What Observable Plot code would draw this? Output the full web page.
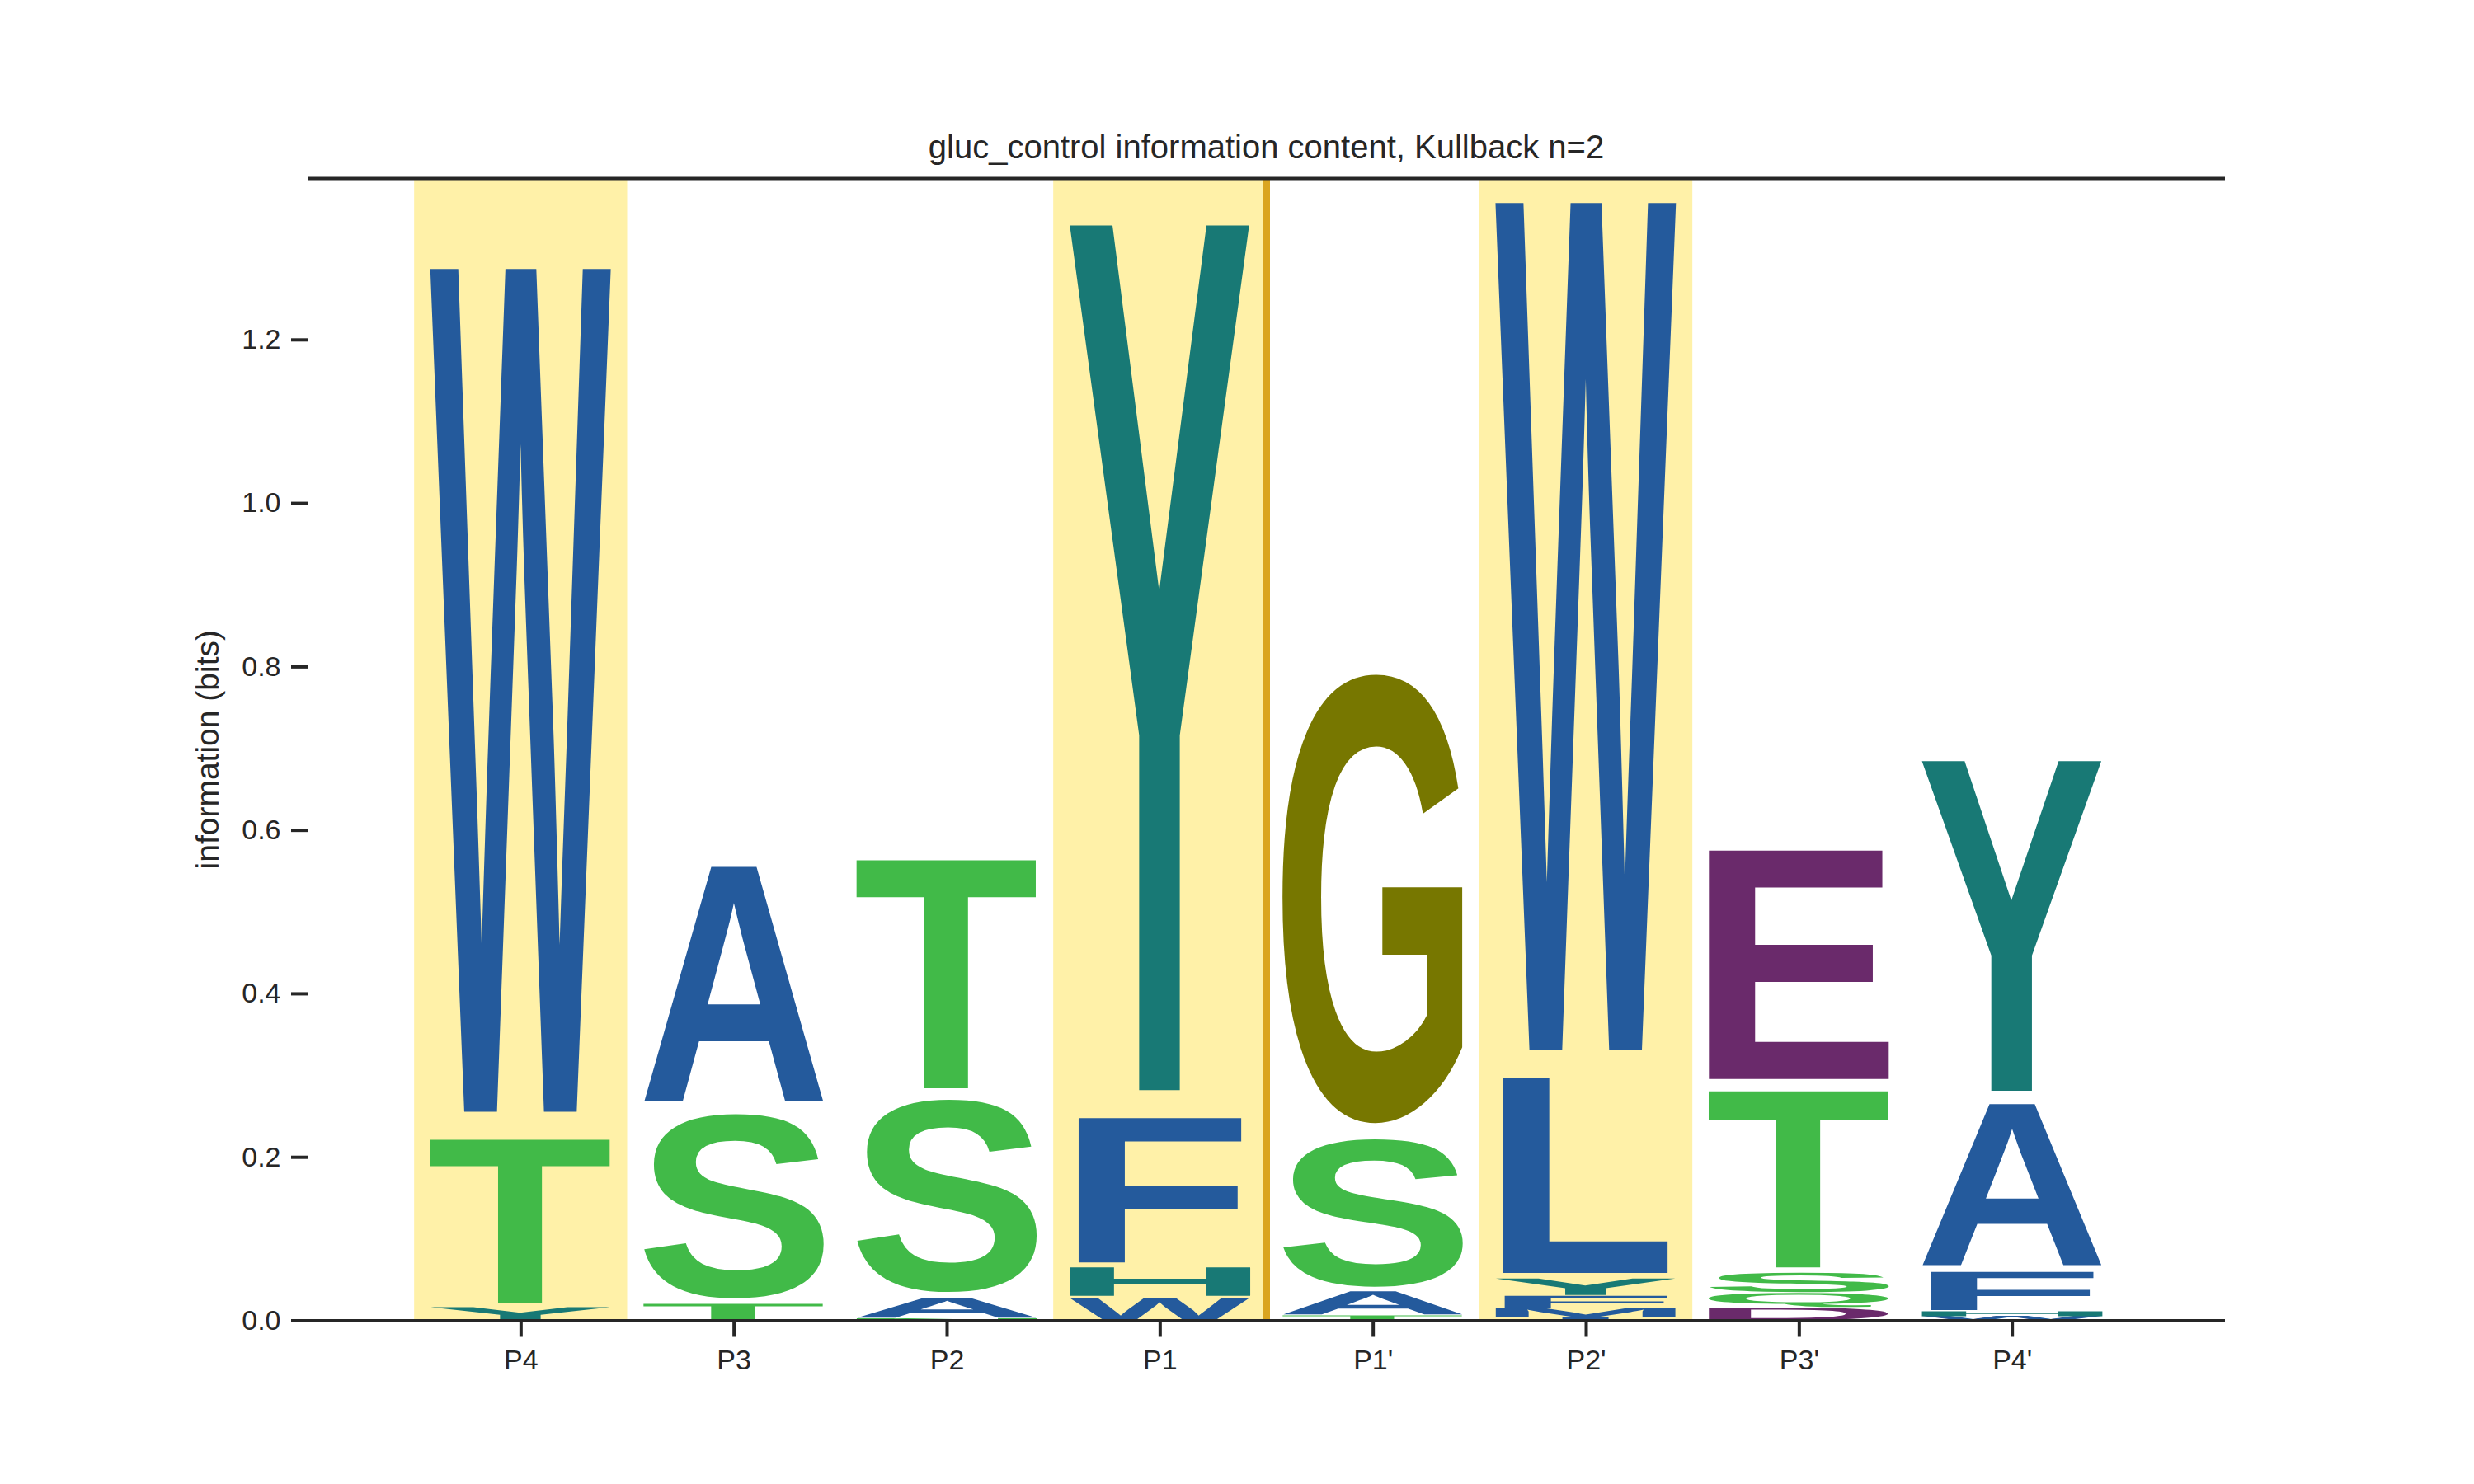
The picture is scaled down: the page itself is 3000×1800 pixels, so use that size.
<!DOCTYPE html>
<html>
<head>
<meta charset="utf-8">
<script src="https://cdn.jsdelivr.net/npm/d3@7"></script>
<script src="https://cdn.jsdelivr.net/npm/@observablehq/plot@0.6"></script>
<style>
  html, body { margin: 0; padding: 0; background: #ffffff; }
  #title { position: relative; width: 3000px; height: 200px; font-family: "Liberation Sans", Arial, sans-serif; color: #262626; }
  #title span { position: absolute; left: 373px; width: 2325px; top: 158px; line-height: 40px; font-size: 40px; text-align: center; white-space: nowrap; }
</style>
</head>
<body>
<div id="title"><span>gluc_control information content, Kullback n=2</span></div>
<div id="chart"></div>
<script>
// ---- data ----
const positions = ["P4", "P3", "P2", "P1", "P1'", "P2'", "P3'", "P4'"];
const highlighted = ["P4", "P1", "P2'"];
const dividerAfter = ["P1"];
// letters in each column, bottom to top
const letters = [
  ["Y", "T", "W"],
  ["T", "S", "A"],
  ["N", "A", "S", "T"],
  ["W", "H", "F", "Y"],
  ["T", "A", "S", "G"],
  ["I", "M", "F", "Y", "L", "W"],
  ["D", "Q", "S", "T", "E"],
  ["W", "H", "F", "A", "Y"]
];
// information (bits) of each letter, same order
const bits = [
  [0.0165, 0.2116, 1.0885],
  [0.021, 0.2376, 0.3045],
  [0.0025, 0.0259, 0.2482, 0.2965],
  [0.029, 0.0372, 0.1876, 1.1168],
  [0.0063, 0.0301, 0.1903, 0.5788],
  [0.004, 0.0113, 0.0152, 0.0212, 0.2518, 1.094],
  [0.016, 0.018, 0.025, 0.229, 0.295],
  [0.005, 0.0064, 0.0496, 0.2094, 0.4255]
];
const yTicks = [0, 0.2, 0.4, 0.6, 0.8, 1.0, 1.2];
const yLabel = ["information (bits)"];
const blueLetters = ["W", "A", "F", "L", "I", "M", "V"];
const greenLetters = ["T", "S", "N", "Q"];
const tealLetters = ["Y", "H"];
const oliveLetters = ["G"];
const purpleLetters = ["E", "D"];

// ---- build the table ----
const colorOf = {};
blueLetters.forEach(l => colorOf[l] = "#245a9c");
greenLetters.forEach(l => colorOf[l] = "#41ba48");
tealLetters.forEach(l => colorOf[l] = "#187975");
oliveLetters.forEach(l => colorOf[l] = "#777700");
purpleLetters.forEach(l => colorOf[l] = "#6a2a6b");

const rows = [];
positions.forEach((p, i) => {
  let c = 0;
  letters[i].forEach((l, j) => {
    rows.push({pos: i, letter: l, y1: c, y2: c + bits[i][j]});
    c += bits[i][j];
  });
});
const ymax = d3.max(positions, (p, i) => d3.sum(bits[i]));
const GLYPH_W = 0.85;
const ink = "#262626";

const plot = Plot.plot({
  width: 3000,
  height: 1600,
  marginLeft: 373,
  marginRight: 302,
  marginTop: 16,
  marginBottom: 198.5,
  x: {domain: [-1, 8]},
  y: {domain: [0, ymax]},
  style: {fontFamily: "'Liberation Sans', Arial, sans-serif", fontSize: "34px", color: ink, background: "white", overflow: "visible"},
  marks: [
    Plot.rect(highlighted, {
      x1: p => positions.indexOf(p) - 0.5,
      x2: p => positions.indexOf(p) + 0.5,
      y1: () => 0, y2: () => ymax,
      fill: "#fff1a8"
    }),
    Plot.ruleX(dividerAfter, {x: p => positions.indexOf(p) + 0.5, stroke: "#daa520", strokeWidth: 8}),
    Plot.rect(rows, {
      x1: d => d.pos - GLYPH_W / 2,
      x2: d => d.pos + GLYPH_W / 2,
      y1: "y1", y2: "y2",
      fill: d => colorOf[d.letter],
      ariaDescription: "logo-glyphs"
    }),
    Plot.ruleY([0, ymax], {stroke: ink, strokeWidth: 4}),
    Plot.axisX({
      ticks: positions.map((p, i) => i),
      tickFormat: i => positions[i],
      tickSize: 20, tickPadding: 15, strokeWidth: 4, label: null, fontSize: 34
    }),
    Plot.axisY({
      ticks: yTicks, tickFormat: d3.format(".1f"),
      tickSize: 20, tickPadding: 13, strokeWidth: 4, label: null, fontSize: 34
    }),
    Plot.text(yLabel, {text: d => d, frameAnchor: "left", textAnchor: "middle", lineAnchor: "middle", rotate: -90, dx: -121, fontSize: 39, fill: ink})
  ]
});
document.getElementById("chart").appendChild(plot);

// ---- turn each stacked rect into a stretched letter glyph ----
const FONT = "'Liberation Sans', Arial, sans-serif";
const canvas = document.createElement("canvas");
const ctx = canvas.getContext("2d");
ctx.font = `bold 200px ${FONT}`;
ctx.textBaseline = "alphabetic";
ctx.textAlign = "left";
function inkBox(ch) {
  const m = ctx.measureText(ch);
  return {left: -m.actualBoundingBoxLeft, right: m.actualBoundingBoxRight,
          top: -m.actualBoundingBoxAscent, bottom: m.actualBoundingBoxDescent};
}
const eBox = inkBox("E");
const eWidth = eBox.right - eBox.left;
const svgNS = "http://www.w3.org/2000/svg";

// locate the glyph rects
let glyphRects = null;
const descG = plot.querySelector('g[aria-description="logo-glyphs"]');
if (descG && descG.querySelectorAll("rect").length === rows.length) glyphRects = descG.querySelectorAll("rect");
if (!glyphRects) {
  plot.querySelectorAll("g").forEach(g => {
    const rs = g.querySelectorAll(":scope > rect");
    if (!glyphRects && rs.length === rows.length) glyphRects = rs;
  });
}
(glyphRects ? Array.from(glyphRects) : []).forEach((r, k) => {
  const d = rows[k];
  const x = +r.getAttribute("x"), y = +r.getAttribute("y");
  const w = +r.getAttribute("width"), h = +r.getAttribute("height");
  const fill = r.getAttribute("fill") || r.parentNode.getAttribute("fill");
  const b = inkBox(d.letter);
  const cw = b.right - b.left, chh = b.bottom - b.top;
  const gw = w * cw / Math.max(cw, eWidth);
  const gx = x + (w - gw) / 2;
  const gy = y + 0.025 * h, gh = 0.95 * h;
  const t = document.createElementNS(svgNS, "text");
  t.textContent = d.letter;
  t.setAttribute("font-family", FONT);
  t.setAttribute("font-weight", "bold");
  t.setAttribute("font-size", "200");
  t.setAttribute("fill", fill);
  t.setAttribute("stroke", "none");
  t.setAttribute("x", 0);
  t.setAttribute("y", 0);
  t.setAttribute("text-anchor", "start");
  t.setAttribute("transform", `translate(${gx},${gy}) scale(${gw / cw},${gh / chh}) translate(${-b.left},${-b.top})`);
  r.parentNode.insertBefore(t, r);
  r.remove();
});
</script>
</body>
</html>
